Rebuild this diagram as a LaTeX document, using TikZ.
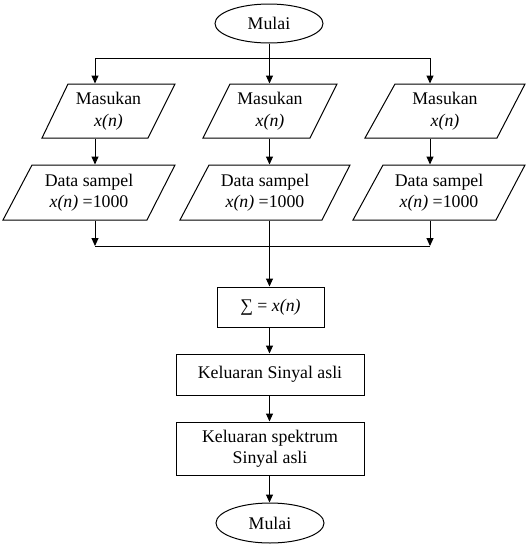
\documentclass[tikz,border=0pt]{standalone}
\usepackage{fontspec}
\setmainfont{Liberation Serif}
\usetikzlibrary{arrows.meta,shapes.geometric}
\begin{document}
\begin{tikzpicture}[x=1pt,y=-1pt,
  line width=1pt,
  arr/.style={-{Triangle[length=8pt,width=7pt]}},
  txt/.style={font=\fontsize{17.8}{21.5}\selectfont, align=center, inner sep=0pt},
  term/.style={txt, draw, ellipse, minimum width=108pt, minimum height=39pt},
  io/.style={txt, minimum height=54pt},
  io2/.style={txt, minimum height=55pt},
  proc/.style={txt, draw, rectangle}
]
\useasboundingbox (0,0) rectangle (526,560);

% terminals
\node[term] (start) at (269,23.5) {Mulai};
\node[term, minimum height=40pt] (stop) at (270,523) {Mulai};

% row 1 parallelograms
\draw (68,84) -- (175,84) -- (148,138) -- (42,138) -- cycle;
\draw (230,84) -- (337,84) -- (310,138) -- (203,138) -- cycle;
\draw (395,84) -- (525,84) -- (497,138) -- (365,138) -- cycle;
\node[io] (m1) at (108.5,111) {Masukan\\\textit{x(n)}};
\node[io] (m2) at (270,111) {Masukan\\\textit{x(n)}};
\node[io] (m3) at (445,111) {Masukan\\\textit{x(n)}};

% row 2 parallelograms
\draw (32,165) -- (175,165) -- (147,220) -- (3,220) -- cycle;
\draw (209,165) -- (350,165) -- (322,220) -- (180,220) -- cycle;
\draw (383,165) -- (525,165) -- (496,220) -- (353,220) -- cycle;
\node[io2] (d1) at (89,192.5) {Data sampel\\\textit{x(n)} =1000};
\node[io2] (d2) at (265,192.5) {Data sampel\\\textit{x(n)} =1000};
\node[io2] (d3) at (439,192.5) {Data sampel\\\textit{x(n)} =1000};

% process boxes
\node[proc, minimum width=107pt, minimum height=40pt] (sum) at (270.5,307) {∑ = \textit{x(n)}};
\node[proc, minimum width=188pt, minimum height=41pt] (out1) at (270,374.5) {Keluaran Sinyal asli};
\node[proc, minimum width=188pt, minimum height=53pt] (out2) at (270,448.5) {Keluaran spektrum\\Sinyal asli};

% junction coordinates
\coordinate (jt) at (269.5,58);
\coordinate (jl) at (95,58);
\coordinate (jr) at (430,58);
\coordinate (bl) at (95,246);
\coordinate (br) at (430,246);

% top distribution
\draw (start.south -| jt) -- (jt);
\draw (jl) -- (jr);
\draw[arr] (jl) -- (m1.north -| jl);
\draw[arr] (jt) -- (m2.north -| jt);
\draw[arr] (jr) -- (m3.north -| jr);

% row1 to row2
\draw[arr] (m1.south -| jl) -- (d1.north -| jl);
\draw[arr] (m2.south -| jt) -- (d2.north -| jt);
\draw[arr] (m3.south -| jr) -- (d3.north -| jr);

% merge
\draw[arr] (d1.south -| jl) -- (bl);
\draw[arr] (d3.south -| jr) -- (br);
\draw (bl) -- (br);
\draw[arr] (d2.south -| jt) -- (sum.north -| jt);

% chain
\draw[arr] (sum.south -| jt) -- (out1.north -| jt);
\draw[arr] (out1.south -| jt) -- (out2.north -| jt);
\draw[arr] (out2.south -| jt) -- (stop.north -| jt);
\end{tikzpicture}
\end{document}
